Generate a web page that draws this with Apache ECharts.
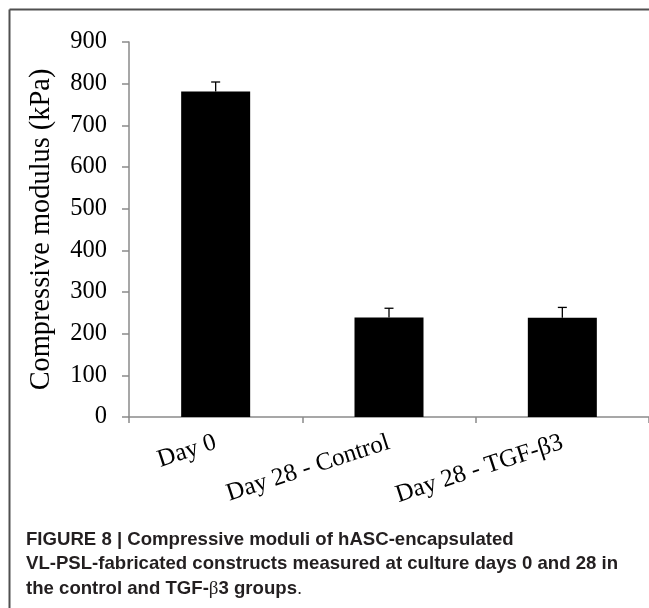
<!DOCTYPE html>
<html><head><meta charset="utf-8">
<script src="https://cdn.jsdelivr.net/npm/echarts@6/dist/echarts.min.js"></script>
<style>html,body{margin:0;padding:0;background:#fff}#c{width:649px;height:608px}</style>
</head><body><div id="c"></div>
<script>
const categories = ['Day 0', 'Day 28 - Control', 'Day 28 - TGF-β3'];
const values = [781, 239, 238];
const errors = [23, 22, 25];
const yMin = 0, yMax = 900, yStep = 100;
const yAxisTitle = 'Compressive modulus (kPa)';
const captionLines = [
  'FIGURE 8 | Compressive moduli of hASC-encapsulated',
  'VL-PSL-fabricated constructs measured at culture days 0 and 28 in',
  'the control and TGF-{g|β}3 groups{p|.}'
];

const serif = '"Liberation Serif","Times New Roman",serif';
const sans = '"Liberation Sans",Arial,Helvetica,sans-serif';
const chart = echarts.init(document.getElementById('c'), null, {renderer: 'canvas'});

const errData = values.map((v, i) => [i, v, v + errors[i]]);

const captionGraphics = captionLines.map((t, i) => ({
  type: 'text',
  left: 26,
  top: 530 + i * 24.7,
  style: {
    text: t,
    font: 'bold 18.6px ' + sans,
    fill: '#231f20',
    rich: {
      g: {fontFamily: serif, fontWeight: 'normal', fontSize: 19, fill: '#231f20'},
      p: {fontFamily: sans, fontWeight: 'normal', fontSize: 18.6, fill: '#231f20'}
    }
  }
}));

const option = {
  animation: false,
  backgroundColor: '#fff',
  grid: {left: 129, right: -3, top: 42, bottom: 191, containLabel: false},
  xAxis: {
    type: 'category', data: categories, boundaryGap: true,
    axisLine: {lineStyle: {color: '#8a8a8a', width: 1.5}},
    axisTick: {show: true, length: 6, lineStyle: {color: '#8a8a8a', width: 1.5}},
    axisLabel: {rotate: 18, margin: 25, fontFamily: serif, fontSize: 25, color: '#000', interval: 0}
  },
  yAxis: {
    type: 'value', min: yMin, max: yMax, interval: yStep,
    name: yAxisTitle, nameLocation: 'middle', nameGap: 73,
    nameTextStyle: {fontFamily: serif, fontSize: 28.4, color: '#000'},
    axisLine: {show: true, lineStyle: {color: '#8a8a8a', width: 1.5}},
    axisTick: {show: true, length: 7, lineStyle: {color: '#8a8a8a', width: 1.5}},
    splitLine: {show: false},
    axisLabel: {margin: 22, fontFamily: serif, fontSize: 24.5, color: '#000'}
  },
  series: [
    {type: 'bar', data: values, barWidth: 69, itemStyle: {color: '#000'}, z: 2},
    {
      type: 'custom', data: errData, encode: {x: 0, y: [1, 2]}, z: 3,
      renderItem: function (params, api) {
        const x = api.value(0), lo = api.value(1), hi = api.value(2);
        const p1 = api.coord([x, lo]), p2 = api.coord([x, hi]);
        const half = 4.5;
        return {
          type: 'group', children: [
            {type: 'line', shape: {x1: p1[0], y1: p1[1], x2: p2[0], y2: p2[1]}, style: {stroke: '#000', lineWidth: 1.3}},
            {type: 'line', shape: {x1: p2[0] - half, y1: p2[1], x2: p2[0] + half, y2: p2[1]}, style: {stroke: '#000', lineWidth: 1.3}}
          ]
        };
      }
    }
  ],
  graphic: [
    {type: 'line', shape: {x1: 9.5, y1: 9.5, x2: 649, y2: 9.5}, style: {stroke: '#505050', lineWidth: 2}},
    {type: 'line', shape: {x1: 9.5, y1: 9.5, x2: 9.5, y2: 608}, style: {stroke: '#505050', lineWidth: 2}}
  ].concat(captionGraphics)
};
chart.setOption(option);
</script></body></html>
